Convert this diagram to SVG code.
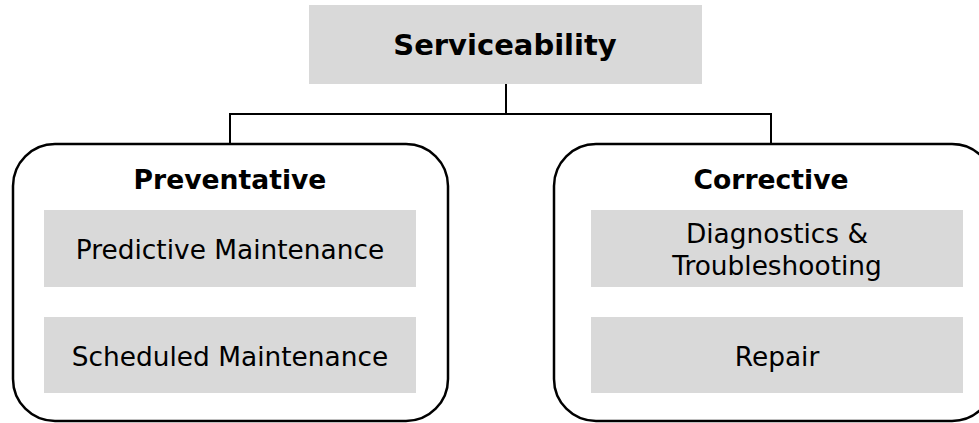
<svg xmlns="http://www.w3.org/2000/svg" width="979" height="423" viewBox="0 0 979 423">
<style>
.box{fill:#d9d9d9;stroke:none}
.group{fill:#fff;stroke:#000;stroke-width:2.5}
.conn{fill:none;stroke:#000;stroke-width:2}
text{font-family:"DejaVu Sans",Verdana,sans-serif;text-anchor:middle;fill:#000}
.t{font-size:26.4px}
.b{font-size:26.6px;font-weight:bold}
</style>
<rect width="979" height="423" fill="#fff"/>
<g id="connectors">
<path class="conn" d="M506 84V114M230 114H771M230 113V143M771 113V143"/>
</g>
<g id="serviceability">
<rect class="box" x="309" y="5" width="393" height="79"/>
<text class="b" x="505" y="55" style="font-size:29px">Serviceability</text>
</g>
<g id="preventative">
<rect class="group" x="13" y="144" width="435" height="277" rx="42"/>
<text class="b" x="230" y="189">Preventative</text>
</g>
<g id="predictive">
<rect class="box" x="44" y="210" width="372" height="77"/>
<text class="t" x="230" y="259">Predictive Maintenance</text>
</g>
<g id="scheduled">
<rect class="box" x="44" y="317" width="372" height="76"/>
<text class="t" x="230" y="366">Scheduled Maintenance</text>
</g>
<g id="corrective">
<rect class="group" x="554" y="144" width="440" height="277" rx="42"/>
<text class="b" x="771" y="189">Corrective</text>
</g>
<g id="diagnostics">
<rect class="box" x="591" y="210" width="372" height="77"/>
<text class="t" x="777" y="243">Diagnostics &amp;</text>
<text class="t" x="777" y="275">Troubleshooting</text>
</g>
<g id="repair">
<rect class="box" x="591" y="317" width="372" height="76"/>
<text class="t" x="777" y="366">Repair</text>
</g>
</svg>
